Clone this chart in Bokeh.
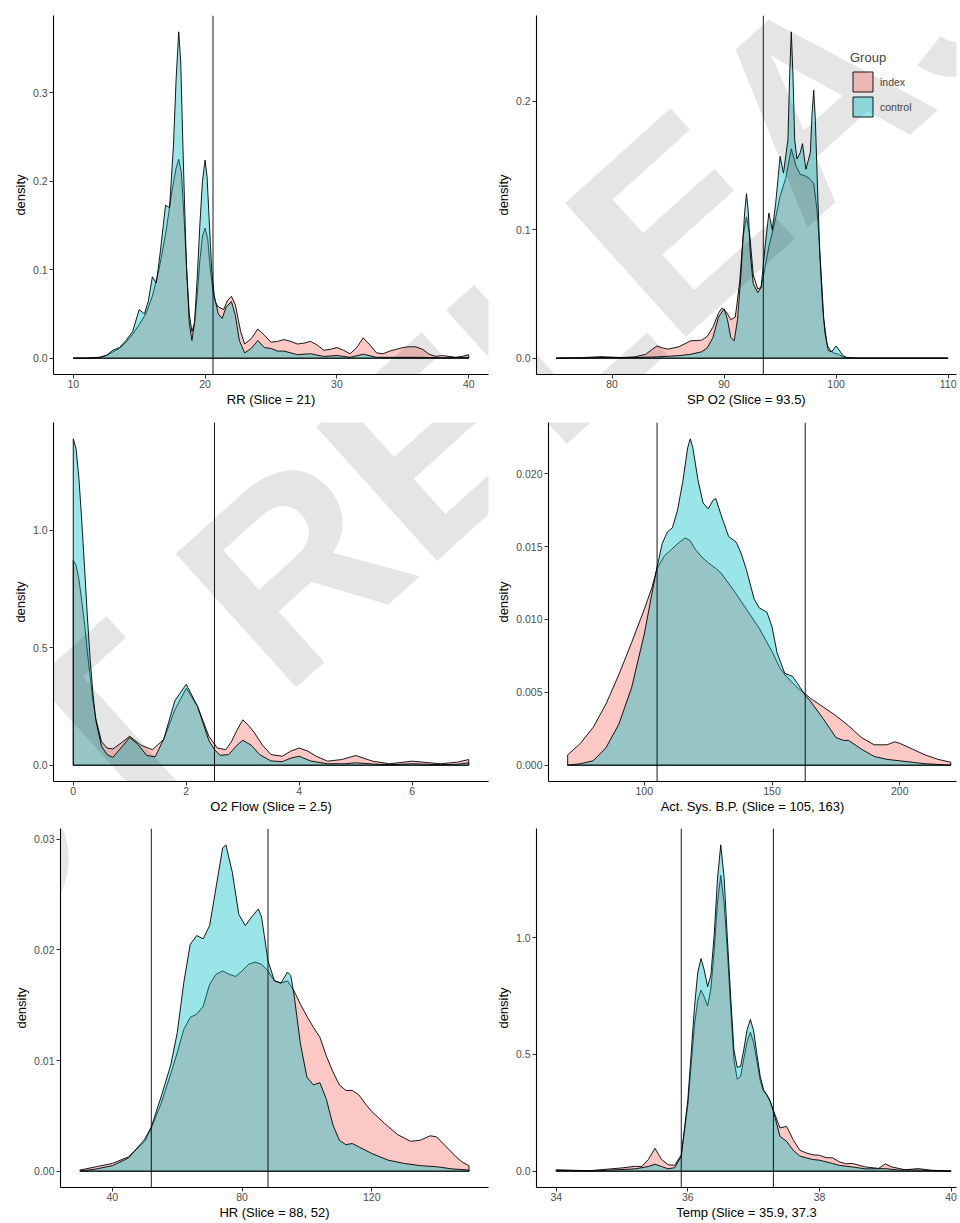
import math
from bokeh.plotting import figure
from bokeh.models import (Span, Label, FixedTicker, PrintfTickFormatter, Range1d,
                          Legend, LegendItem)
from bokeh.layouts import column, row
from bokeh.embed import file_html
from bokeh.resources import INLINE

# ---------------------------------------------------------------- data ----
groups = ["index", "control"]

rr_index = [(10, 0), (11, 0), (12, 0.001), (12.5, 0.003), (13, 0.007), (13.5, 0.011), (14, 0.018),
            (14.5, 0.027), (15, 0.038), (15.5, 0.05), (16, 0.07), (16.5, 0.1), (17, 0.14), (17.5, 0.19),
            (17.8, 0.215), (18, 0.225), (18.2, 0.21), (18.4, 0.16), (18.6, 0.1), (18.8, 0.05), (19, 0.03),
            (19.2, 0.04), (19.4, 0.07), (19.6, 0.11), (19.8, 0.138), (20, 0.147), (20.2, 0.135), (20.4, 0.1),
            (20.6, 0.075), (20.8, 0.063), (21, 0.058), (21.4, 0.055), (21.7, 0.065), (22, 0.07), (22.3, 0.06),
            (22.7, 0.03), (23, 0.016), (23.5, 0.022), (24, 0.033), (24.5, 0.026), (25, 0.018), (25.5, 0.019),
            (26, 0.021), (26.5, 0.019), (27, 0.016), (27.5, 0.017), (28, 0.019), (28.5, 0.015), (29, 0.009),
            (29.5, 0.01), (30, 0.012), (30.5, 0.009), (31, 0.005), (31.5, 0.012), (32, 0.023), (32.5, 0.015),
            (33, 0.006), (33.5, 0.005), (34, 0.008), (34.5, 0.01), (35, 0.012), (35.5, 0.013), (36, 0.0128),
            (36.5, 0.01), (37, 0.0045), (37.5, 0.002), (38, 0.003), (38.5, 0.002), (39, 0.001), (39.5, 0.002),
            (40, 0.004)]
rr_control = [(10, 0), (11, 0), (12, 0.001), (12.5, 0.003), (13, 0.009), (13.5, 0.012), (14, 0.02),
              (14.5, 0.03), (15, 0.055), (15.4, 0.05), (15.7, 0.065), (16, 0.092), (16.3, 0.085),
              (16.6, 0.12), (17, 0.173), (17.3, 0.17), (17.6, 0.24), (17.8, 0.315), (18, 0.369),
              (18.15, 0.335), (18.3, 0.25), (18.45, 0.17), (18.6, 0.1), (18.8, 0.04), (19, 0.02),
              (19.2, 0.04), (19.4, 0.09), (19.6, 0.15), (19.8, 0.2), (20, 0.224), (20.15, 0.205),
              (20.3, 0.16), (20.5, 0.1), (20.7, 0.07), (21, 0.05), (21.3, 0.045), (21.6, 0.058),
              (22, 0.064), (22.3, 0.048), (22.6, 0.02), (23, 0.006), (23.5, 0.011), (24, 0.02),
              (24.5, 0.012), (25, 0.011), (25.5, 0.008), (26, 0.008), (27, 0.004), (28, 0.005),
              (29, 0.002), (30, 0.003), (31, 0.001), (32, 0.0045), (33, 0.001), (34, 0.001), (36, 0.001),
              (38, 0.0005), (40, 0.001)]
rr_slices = [20.6]
rr_xticks = [10, 20, 30, 40]
rr_yticks = [0.0, 0.1, 0.2, 0.3]

spo2_index = [(75, 0), (77, 0.0003), (79, 0.0012), (80, 0.0008), (81, 0.0005), (82, 0.001), (83, 0.003),
              (83.6, 0.007), (84, 0.0095), (84.5, 0.008), (85, 0.007), (86, 0.009), (87, 0.0135),
              (88, 0.014), (88.5, 0.017), (89, 0.024), (89.5, 0.035), (89.8, 0.039), (90.2, 0.036),
              (90.6, 0.03), (91, 0.032), (91.4, 0.06), (91.7, 0.095), (92, 0.11), (92.3, 0.095),
              (92.6, 0.065), (93, 0.054), (93.3, 0.055), (93.6, 0.068), (94, 0.087), (94.5, 0.105),
              (95, 0.126), (95.5, 0.14), (96, 0.163), (96.4, 0.15), (96.8, 0.143), (97.2, 0.142),
              (97.6, 0.14), (98, 0.136), (98.3, 0.115), (98.6, 0.075), (98.9, 0.03), (99.2, 0.01),
              (99.5, 0.006), (99.8, 0.004), (100.2, 0.003), (100.6, 0.001), (101, 0), (105, 0), (110, 0)]
spo2_control = [(75, 0), (78, 0.0003), (80, 0.0005), (82, 0.0005), (84, 0.001), (86, 0.002), (87, 0.003),
                (88, 0.005), (88.5, 0.008), (89, 0.016), (89.5, 0.032), (90, 0.0385), (90.3, 0.03),
                (90.6, 0.016), (90.9, 0.0135), (91.2, 0.03), (91.5, 0.065), (91.7, 0.095), (91.85, 0.115),
                (92, 0.128), (92.15, 0.115), (92.35, 0.08), (92.6, 0.058), (93, 0.051), (93.3, 0.055),
                (93.7, 0.09), (94, 0.113), (94.3, 0.1), (94.6, 0.12), (95, 0.157), (95.3, 0.144),
                (95.7, 0.17), (95.85, 0.22), (96, 0.254), (96.15, 0.22), (96.3, 0.17), (96.5, 0.155),
                (96.8, 0.16), (97, 0.167), (97.3, 0.147), (97.7, 0.16), (97.85, 0.19), (98, 0.2085),
                (98.15, 0.185), (98.35, 0.13), (98.55, 0.08), (98.8, 0.04), (99, 0.02), (99.3, 0.006),
                (99.6, 0.005), (100, 0.0095), (100.3, 0.006), (100.6, 0.002), (101, 0.0005), (102, 0),
                (105, 0), (110, 0)]
spo2_slices = [93.5]
spo2_xticks = [80, 90, 100, 110]
spo2_yticks = [0.0, 0.1, 0.2]

o2_index = [(0, 0.87), (0.05, 0.85), (0.1, 0.79), (0.15, 0.7), (0.2, 0.6), (0.25, 0.48), (0.3, 0.376),
            (0.35, 0.27), (0.4, 0.196), (0.5, 0.1), (0.6, 0.073), (0.7, 0.069), (0.85, 0.095), (1.0, 0.123),
            (1.2, 0.085), (1.4, 0.066), (1.6, 0.109), (1.8, 0.236), (2.0, 0.327), (2.2, 0.25), (2.4, 0.123),
            (2.55, 0.073), (2.7, 0.066), (2.8, 0.1), (2.9, 0.15), (3.0, 0.193), (3.1, 0.17), (3.2, 0.14),
            (3.35, 0.085), (3.5, 0.045), (3.7, 0.038), (3.85, 0.06), (4.0, 0.073), (4.15, 0.06),
            (4.3, 0.038), (4.5, 0.017), (4.75, 0.024), (5.0, 0.041), (5.3, 0.017), (5.6, 0.006),
            (6.0, 0.017), (6.5, 0.006), (6.8, 0.013), (7.0, 0.024)]
o2_control = [(0, 1.388), (0.05, 1.345), (0.1, 1.22), (0.15, 1.04), (0.2, 0.84), (0.25, 0.63), (0.3, 0.447),
              (0.35, 0.3), (0.4, 0.19), (0.5, 0.08), (0.6, 0.045), (0.7, 0.033), (0.85, 0.075), (1.0, 0.118),
              (1.15, 0.087), (1.3, 0.041), (1.45, 0.036), (1.6, 0.11), (1.8, 0.275), (2.0, 0.344),
              (2.2, 0.25), (2.4, 0.105), (2.5, 0.066), (2.6, 0.042), (2.75, 0.045), (2.9, 0.085),
              (3.0, 0.106), (3.15, 0.085), (3.3, 0.045), (3.5, 0.018), (3.7, 0.015), (3.85, 0.03),
              (4.0, 0.038), (4.2, 0.018), (4.5, 0.006), (4.8, 0.006), (5.0, 0.01), (5.3, 0.005),
              (5.6, 0.002), (6.0, 0.006), (6.5, 0.002), (6.8, 0.004), (7.0, 0.01)]
o2_slices = [2.5]
o2_xticks = [0, 2, 4, 6]
o2_yticks = [0.0, 0.5, 1.0]

bp_index = [(70, 0.0007), (75, 0.0015), (80, 0.0026), (85, 0.0042), (90, 0.0062), (95, 0.0084),
            (100, 0.0107), (103, 0.0122), (105, 0.0135), (108, 0.0144), (110, 0.0147), (113, 0.0152),
            (116, 0.0156), (118, 0.0154), (120, 0.0148), (123, 0.0142), (125, 0.0139), (128, 0.0135),
            (130, 0.0132), (135, 0.012), (140, 0.0107), (145, 0.0094), (150, 0.0078), (153, 0.0067),
            (155, 0.0062), (160, 0.0053), (163, 0.0049), (165, 0.0046), (170, 0.004), (175, 0.0034),
            (180, 0.0027), (185, 0.0019), (190, 0.0014), (195, 0.0014), (198, 0.0016), (200, 0.0015),
            (205, 0.0011), (210, 0.0007), (215, 0.0004), (220, 0.0002)]
bp_control = [(70, 0.0), (75, 0.0001), (80, 0.0003), (85, 0.0012), (90, 0.0028), (95, 0.0053), (100, 0.009),
              (103, 0.0118), (105, 0.0136), (107, 0.0152), (109, 0.016), (111, 0.0163), (113, 0.0175),
              (115, 0.0194), (117, 0.0218), (118, 0.0224), (119, 0.0218), (121, 0.0196), (123, 0.018),
              (125, 0.0176), (127, 0.0182), (128, 0.0183), (130, 0.0172), (133, 0.0157), (136, 0.0153),
              (138, 0.0145), (140, 0.0134), (143, 0.0114), (145, 0.0108), (148, 0.0105), (150, 0.0095),
              (152, 0.0077), (155, 0.0063), (158, 0.0061), (160, 0.0056), (163, 0.0048), (165, 0.0044),
              (170, 0.0032), (175, 0.0019), (178, 0.0017), (180, 0.0017), (185, 0.0011), (190, 0.0006),
              (195, 0.0004), (200, 0.0003), (205, 0.0002), (210, 0.0001), (215, 0.00005), (220, 0.0)]
bp_slices = [105, 163]
bp_xticks = [100, 150, 200]
bp_yticks = [0.0, 0.005, 0.010, 0.015, 0.020]

hr_index = [(30, 0.0001), (35, 0.0004), (40, 0.0007), (45, 0.0013), (50, 0.0027), (52, 0.0039), (55, 0.0061),
            (58, 0.0088), (60, 0.0107), (62, 0.0128), (64, 0.0139), (66, 0.0142), (68, 0.0149), (70, 0.0169),
            (72, 0.0178), (74, 0.0181), (76, 0.0178), (78, 0.0176), (80, 0.0181), (82, 0.0187), (84, 0.0189),
            (86, 0.0187), (88, 0.0181), (90, 0.0172), (92, 0.017), (94, 0.0172), (96, 0.0163), (98, 0.0151),
            (100, 0.014), (102, 0.013), (104, 0.0121), (106, 0.0104), (108, 0.009), (110, 0.0078),
            (112, 0.0073), (114, 0.0073), (116, 0.0069), (118, 0.0061), (120, 0.0054), (124, 0.0043),
            (128, 0.0033), (132, 0.0027), (135, 0.0028), (138, 0.0032), (140, 0.0031), (143, 0.0022),
            (146, 0.0013), (148, 0.0008), (150, 0.0005)]
hr_control = [(30, 0.0), (35, 0.0002), (40, 0.0005), (45, 0.0012), (50, 0.0029), (52, 0.004), (55, 0.0067),
              (58, 0.0096), (60, 0.0125), (62, 0.017), (64, 0.0205), (66, 0.0213), (68, 0.021), (70, 0.0222),
              (72, 0.0257), (74, 0.0292), (75, 0.0295), (77, 0.027), (79, 0.0232), (81, 0.0222), (83, 0.023),
              (85, 0.0237), (86, 0.023), (88, 0.019), (90, 0.0172), (92, 0.017), (94, 0.018), (95, 0.0177),
              (96, 0.016), (98, 0.0115), (100, 0.0085), (102, 0.0078), (104, 0.008), (106, 0.0065),
              (108, 0.0042), (110, 0.0028), (112, 0.0024), (114, 0.0025), (116, 0.0022), (120, 0.0016),
              (125, 0.001), (130, 0.0007), (135, 0.0005), (140, 0.0004), (145, 0.0002), (150, 0.0001)]
hr_slices = [88, 52]
hr_xticks = [40, 80, 120]
hr_yticks = [0.0, 0.01, 0.02, 0.03]

temp_index = [(34, 0.006), (34.5, 0.002), (35, 0.014), (35.2, 0.021), (35.3, 0.02), (35.4, 0.05), (35.5, 0.098),
              (35.6, 0.05), (35.7, 0.028), (35.8, 0.025), (35.9, 0.07), (36.0, 0.284), (36.1, 0.626),
              (36.15, 0.73), (36.2, 0.775), (36.25, 0.745), (36.3, 0.707), (36.35, 0.78), (36.4, 0.946),
              (36.45, 1.15), (36.5, 1.266), (36.55, 1.15), (36.6, 0.946), (36.65, 0.7), (36.7, 0.477),
              (36.75, 0.394), (36.8, 0.405), (36.85, 0.48), (36.9, 0.555), (36.95, 0.595), (37.0, 0.55),
              (37.05, 0.47), (37.1, 0.388), (37.15, 0.34), (37.2, 0.327), (37.25, 0.3), (37.3, 0.26),
              (37.4, 0.185), (37.5, 0.192), (37.6, 0.135), (37.7, 0.09), (37.8, 0.078), (37.9, 0.07),
              (38.0, 0.068), (38.1, 0.058), (38.2, 0.057), (38.3, 0.04), (38.4, 0.032), (38.5, 0.033),
              (38.7, 0.018), (38.9, 0.012), (39.0, 0.031), (39.1, 0.018), (39.3, 0.006), (39.5, 0.011),
              (39.7, 0.004), (40.0, 0.001)]
temp_control = [(34, 0.003), (34.5, 0.001), (35, 0.007), (35.2, 0.01), (35.4, 0.02), (35.5, 0.03), (35.6, 0.02),
                (35.7, 0.01), (35.8, 0.015), (35.9, 0.064), (36.0, 0.306), (36.1, 0.70), (36.15, 0.85),
                (36.2, 0.91), (36.25, 0.86), (36.3, 0.79), (36.35, 0.84), (36.4, 1.01), (36.45, 1.25),
                (36.5, 1.397), (36.55, 1.26), (36.6, 1.0), (36.65, 0.75), (36.7, 0.52), (36.75, 0.445),
                (36.8, 0.448), (36.85, 0.52), (36.9, 0.605), (36.95, 0.65), (37.0, 0.6), (37.05, 0.5),
                (37.1, 0.405), (37.15, 0.35), (37.2, 0.327), (37.25, 0.3), (37.3, 0.256), (37.4, 0.149),
                (37.5, 0.128), (37.6, 0.09), (37.7, 0.065), (37.8, 0.057), (37.9, 0.05), (38.0, 0.047),
                (38.2, 0.033), (38.3, 0.025), (38.5, 0.018), (38.7, 0.01), (39.0, 0.011), (39.2, 0.005),
                (39.5, 0.005), (40.0, 0.0)]
temp_slices = [35.9, 37.3]
temp_xticks = [34, 36, 38, 40]
temp_yticks = [0.0, 0.5, 1.0]

titles = ["RR (Slice = 21)", "SP O2 (Slice = 93.5)", "O2 Flow (Slice = 2.5)",
          "Act. Sys. B.P. (Slice = 105, 163)", "HR (Slice = 88, 52)", "Temp (Slice = 35.9, 37.3"]
watermark_text = "DO NOT RELEASE"

# --------------------------------------------------------------- style ----
FONT = "Liberation Sans"
COLORS = {"index": "#F8766D", "control": "#00BFC4"}
COL_W = [490, 470]
ROW_H = [409, 407, 406]
ROW_TOP = [15, 13, 12]
FRAME_H = 360
WM_ANCHOR = (-589, 1363)   # page position of the watermark's baseline start
WM_ANGLE = 42
WM_SIZE = "262px"


def make_panel(idx_pts, ctl_pts, slices, xticks, yticks, yfmt, xlabel,
               col, r, min_left, xfrac=1.0, legend=False, watermark=True):
    width = COL_W[col]
    min_right = 2 if col == 0 else 4
    height = ROW_H[r]
    top = ROW_TOP[r]
    bottom = height - top - FRAME_H
    xi = [p[0] for p in idx_pts]; yi = [p[1] for p in idx_pts]
    xc = [p[0] for p in ctl_pts]; yc = [p[1] for p in ctl_pts]
    xmin = min(xi + xc); xmax = max(xi + xc)
    span = xmax - xmin
    x0 = xmin - 0.05 * span
    x1 = xmax + 0.05 * span
    x1 = x0 + (x1 - x0) * xfrac
    ymax = max(yi + yc)

    p = figure(width=width, height=height, output_backend="svg", toolbar_location=None,
               x_range=Range1d(x0, x1), y_range=Range1d(-0.05 * ymax, 1.05 * ymax),
               min_border_left=min_left, min_border_right=min_right,
               min_border_top=top, min_border_bottom=bottom, title=None)
    p.outline_line_color = None
    p.xgrid.visible = False
    p.ygrid.visible = False
    p.background_fill_color = "white"
    p.border_fill_color = "white"

    rends = []
    for xs, ys, g in ((xi, yi, "index"), (xc, yc, "control")):
        rr = p.patch([xs[0]] + xs + [xs[-1]], [0] + ys + [0],
                     fill_color=COLORS[g], fill_alpha=0.4,
                     line_color="black", line_width=1.0, line_alpha=0.9)
        rends.append(rr)

    for s in slices:
        p.add_layout(Span(location=s, dimension="height", line_color="black",
                          line_width=1.0, line_alpha=0.9))

    p.xaxis.ticker = FixedTicker(ticks=xticks)
    p.yaxis.ticker = FixedTicker(ticks=yticks)
    p.yaxis.formatter = PrintfTickFormatter(format=yfmt)
    p.xaxis.axis_label = xlabel
    p.yaxis.axis_label = "density"
    for ax in (p.xaxis[0], p.yaxis[0]):
        ax.axis_line_color = "black"
        ax.axis_line_width = 1.1
        ax.major_tick_line_color = "#333333"
        ax.major_tick_line_width = 1
        ax.major_tick_out = 4
        ax.major_tick_in = 0
        ax.minor_tick_line_color = None
        ax.major_label_text_font = FONT
        ax.major_label_text_font_size = "10.5px"
        ax.major_label_text_color = "#4D4D4D"
        ax.axis_label_text_font = FONT
        ax.axis_label_text_font_size = "13px"
        ax.axis_label_text_font_style = "normal"
        ax.axis_label_text_color = "black"
    p.xaxis.major_label_standoff = 1
    p.xaxis.axis_label_standoff = 1
    p.yaxis.major_label_standoff = 2
    p.yaxis.axis_label_standoff = 2

    # page geometry of the frame
    fig_left = sum(COL_W[:col])
    fig_top = sum(ROW_H[:r])
    frame_left = fig_left + min_left
    frame_bottom = fig_top + top + FRAME_H

    if legend:
        lg = Legend(items=[LegendItem(label=groups[0], renderers=[rends[0]]),
                           LegendItem(label=groups[1], renderers=[rends[1]])],
                    location=(850 - frame_left, frame_bottom - 120),
                    title="Group")
        lg.title_text_font = FONT
        lg.title_text_font_size = "13px"
        lg.title_text_font_style = "normal"
        lg.title_standoff = 4
        lg.label_text_font = FONT
        lg.label_text_font_size = "10.5px"
        lg.label_standoff = 5
        lg.glyph_width = 25
        lg.glyph_height = 25
        lg.label_height = 25
        lg.spacing = -5
        lg.padding = 0
        lg.margin = 0
        lg.border_line_alpha = 0
        lg.background_fill_alpha = 0
        p.add_layout(lg)

    if watermark:
        wm = Label(x=WM_ANCHOR[0] - frame_left, y=frame_bottom - WM_ANCHOR[1],
                   x_units="screen", y_units="screen", text=watermark_text,
                   angle=WM_ANGLE, angle_units="deg", text_font=FONT, text_font_style="bold",
                   text_font_size=WM_SIZE, text_color="black", text_alpha=0.1,
                   text_align="left", text_baseline="alphabetic")
        p.add_layout(wm)
    return p


p1 = make_panel(rr_index, rr_control, rr_slices, rr_xticks, rr_yticks, "%.1f", titles[0], 0, 0, 53)
p2 = make_panel(spo2_index, spo2_control, spo2_slices, spo2_xticks, spo2_yticks, "%.1f", titles[1],
                1, 0, 46, xfrac=0.974, legend=True)
p3 = make_panel(o2_index, o2_control, o2_slices, o2_xticks, o2_yticks, "%.1f", titles[2], 0, 1, 53)
p4 = make_panel(bp_index, bp_control, bp_slices, bp_xticks, bp_yticks, "%.3f", titles[3], 1, 1, 58,
                xfrac=0.968)
p5 = make_panel(hr_index, hr_control, hr_slices, hr_xticks, hr_yticks, "%.2f", titles[4], 0, 2, 60)
p6 = make_panel(temp_index, temp_control, temp_slices, temp_xticks, temp_yticks, "%.1f", titles[5],
                1, 2, 46, xfrac=0.967, watermark=False)

layout = column(row(p1, p2), row(p3, p4), row(p5, p6))
open("out.html", "w").write(file_html(layout, INLINE))
